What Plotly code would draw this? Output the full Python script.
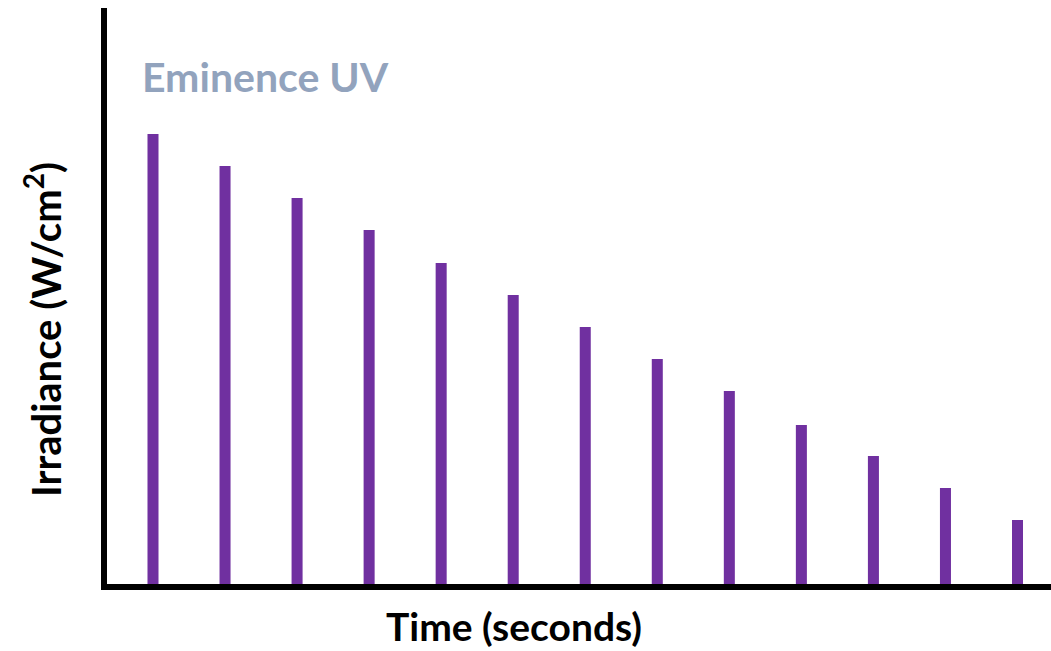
import plotly.graph_objects as go

# Data (relative irradiance over time, arbitrary units)
time_points = list(range(1, 14))
irradiance = [450, 418, 386, 354, 321, 289, 257, 225, 193, 159, 128, 96, 64]

W, H = 1051, 651
L, R, T, B = 107, 0, 8, 67
pw, ph = W - L - R, H - T - B

def px_x(p):
    return (p - L) / pw

def px_y(q):
    return (H - B - q) / ph

fig = go.Figure()
fig.add_trace(go.Bar(
    x=time_points, y=irradiance,
    width=0.153,
    marker=dict(color="#7030A0", line=dict(width=0)),
    hoverinfo="x+y",
))

fig.update_layout(
    width=W, height=H,
    margin=dict(l=L, r=R, t=T, b=B, pad=0),
    paper_bgcolor="white", plot_bgcolor="white",
    showlegend=False,
    xaxis=dict(range=[0.3615, 13.465], showline=True, linecolor="black", linewidth=6,
               showticklabels=False, ticks="", showgrid=False, zeroline=False),
    yaxis=dict(range=[0, 576], showline=True, linecolor="black", linewidth=6,
               showticklabels=False, ticks="", showgrid=False, zeroline=False),
    annotations=[
        dict(text="<b>Eminence UV</b>", xref="paper", yref="paper",
             x=px_x(140), y=px_y(77), xanchor="left", yanchor="middle",
             showarrow=False, font=dict(family="Lato", size=41, color="#92a3bd")),
        dict(text="<b>Irradiance (W/cm<sup>2</sup>)</b>", xref="paper", yref="paper",
             x=px_x(43), y=px_y(330), xanchor="center", yanchor="middle", textangle=-90,
             showarrow=False, font=dict(family="Lato", size=40, color="black")),
        dict(text="<b>Time (seconds)</b>", xref="paper", yref="paper",
             x=px_x(514), y=px_y(626), xanchor="center", yanchor="middle",
             showarrow=False, font=dict(family="Lato", size=39, color="black")),
    ],
)

fig.write_html("out.html", config={"displayModeBar": False},
               post_script="document.body.style.margin='0';document.body.style.overflow='hidden';")
